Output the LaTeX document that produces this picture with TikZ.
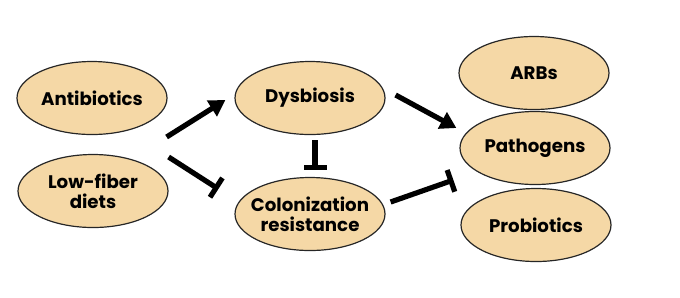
\documentclass[tikz,border=0pt]{standalone}
\usepackage{fontspec}
\setmainfont{Poppins}
\usetikzlibrary{shapes.geometric,arrows.meta}
\definecolor{sand}{HTML}{F5D8A6}
\begin{document}
\begin{tikzpicture}[x=0.5pt,y=-0.5pt,
	blob/.style={ellipse,draw=black!85,line width=0.6pt,fill=sand,minimum width=75pt,minimum height=36.5pt,inner xsep=-4pt,inner ysep=0pt,align=center,font=\fontsize{9.1}{10.2}\selectfont\bfseries},
	push/.style={line width=2.6pt,-{Triangle[length=8pt,width=9pt]}},
	block/.style={line width=2.6pt,-{Bar[width=11.5pt,line width=2.6pt]}}]
	\useasboundingbox (0,0) rectangle (680,297);
	\node[blob] (anti) at (92,98) {Antibiotics};
	\node[blob] (diet) at (93,191) {Low-fiber\\diets};
	\node[blob] (dys) at (310,98) {Dysbiosis};
	\node[blob] (col) at (310,214) {Colonization\\resistance};
	\node[blob] (arb) at (534,73) {ARBs};
	\node[blob] (path) at (535,148) {Pathogens};
	\node[blob] (pro) at (536,225) {Probiotics};
	\draw[push] ([xshift=-0.5pt,yshift=-19.5pt]anti.east) -- ([xshift=-4.5pt,yshift=-1pt]dys.west);
	\draw[block] ([yshift=17pt]diet.east) -- ([xshift=-8pt,yshift=12.5pt]col.west);
	\draw[block] ([xshift=2.5pt,yshift=-2.5pt]dys.south) -- ([xshift=2.5pt,yshift=3.5pt]col.north);
	\draw[push] ([xshift=5pt,yshift=1.5pt]dys.east) -- ([xshift=-1.5pt,yshift=10pt]path.west);
	\draw[block] ([xshift=2.5pt,yshift=6pt]col.east) -- ([xshift=-3pt,yshift=-16pt]path.west);
\end{tikzpicture}
\end{document}
